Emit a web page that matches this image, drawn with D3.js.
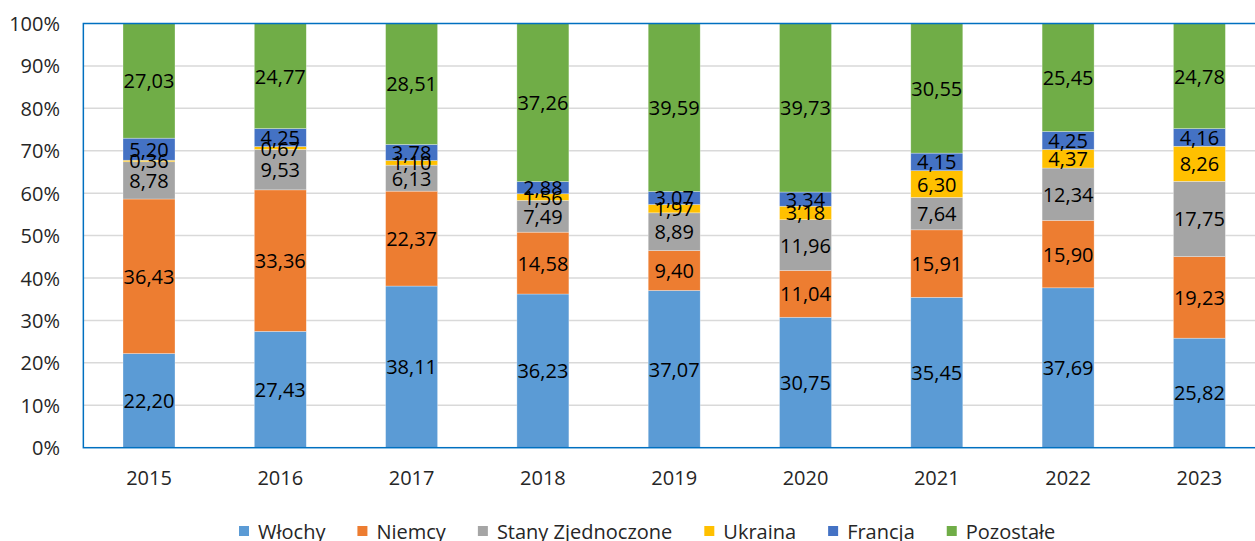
<!DOCTYPE html>
<html><head><meta charset="utf-8">
<script src="https://cdn.jsdelivr.net/npm/d3@7"></script>
<style>
html,body{margin:0;padding:0;background:#fff;overflow:hidden}
svg{display:block;font-family:"Open Sans",sans-serif}
</style></head>
<body>
<svg id="c" width="1255" height="541"></svg>
<script>
const years = ["2015","2016","2017","2018","2019","2020","2021","2022","2023"];
const seriesNames = ["Włochy","Niemcy","Stany Zjednoczone","Ukraina","Francja","Pozostałe"];
const seriesColors = ["#5B9BD5","#ED7D31","#A5A5A5","#FFC000","#4472C4","#70AD47"];
const wlochy    = [22.20,27.43,38.11,36.23,37.07,30.75,35.45,37.69,25.82];
const niemcy    = [36.43,33.36,22.37,14.58, 9.40,11.04,15.91,15.90,19.23];
const stany     = [ 8.78, 9.53, 6.13, 7.49, 8.89,11.96, 7.64,12.34,17.75];
const ukraina   = [ 0.36, 0.67, 1.10, 1.56, 1.97, 3.18, 6.30, 4.37, 8.26];
const francja   = [ 5.20, 4.25, 3.78, 2.88, 3.07, 3.34, 4.15, 4.25, 4.16];
const pozostale = [27.03,24.77,28.51,37.26,39.59,39.73,30.55,25.45,24.78];
const yTicks = [0,0.1,0.2,0.3,0.4,0.5,0.6,0.7,0.8,0.9,1];

(function(){
const allSeries = [wlochy,niemcy,stany,ukraina,francja,pozostale];
const keys = seriesNames;
const rows = years.map((yr,i)=>{
  const r = {year:yr};
  const tot = d3.sum(allSeries, s=>s[i]);
  keys.forEach((k,j)=>{ r[k] = allSeries[j][i]/tot; r["_"+k]=allSeries[j][i]; });
  return r;
});
const stacked = d3.stack().keys(keys)(rows);

const svg = d3.select("#c");
const pLeft = 83.35, pTop = 23.5, pBottom = 447.7, step = 131.3;
const pRight = pLeft + step*years.length;
const x = d3.scaleBand().domain(years).range([pLeft,pRight]).paddingInner(0.604).paddingOuter(0.302);
const y = d3.scaleLinear().domain([0,1]).range([pBottom,pTop]);
const color = d3.scaleOrdinal().domain(keys).range(seriesColors);

// gridlines
svg.append("g").selectAll("line").data(yTicks.filter(t=>t>0 && t<1)).join("line")
  .attr("x1",pLeft).attr("x2",pRight).attr("y1",d=>y(d)).attr("y2",d=>y(d))
  .attr("stroke","#D9D9D9").attr("stroke-width",1.5);

// bars
const g = svg.append("g");
g.selectAll("g").data(stacked).join("g").attr("fill",d=>color(d.key))
  .selectAll("rect").data(d=>d).join("rect")
  .attr("x",d=>x(d.data.year)).attr("width",x.bandwidth())
  .attr("y",d=>y(d[1])).attr("height",d=>y(d[0])-y(d[1]))
  .attr("stroke","#ffffff").attr("stroke-opacity",0.5).attr("stroke-width",0.6);

// frame
svg.append("rect").attr("x",pLeft).attr("y",pTop).attr("width",pRight-pLeft).attr("height",pBottom-pTop)
  .attr("fill","none").attr("stroke","#0070C0").attr("stroke-width",1.5);

// data labels
stacked.forEach(s=>{
  svg.append("g").selectAll("text").data(s).join("text")
    .attr("x",d=>x(d.data.year)+x.bandwidth()/2)
    .attr("y",d=>(y(d[0])+y(d[1]))/2)
    .attr("text-anchor","middle").attr("dominant-baseline","central")
    .attr("font-size",20).attr("fill","#000")
    .text(d=>d3.format(".2f")(d.data["_"+s.key]).replace(".",","));
});

// y axis
const yAxis = d3.axisLeft(y).tickValues(yTicks).tickFormat(d3.format(".0%")).tickSize(0).tickPadding(0);
const ya = svg.append("g").attr("transform","translate(60,0)").call(yAxis);
ya.select(".domain").remove();
ya.selectAll("text").attr("font-size",20).attr("fill","#262626").attr("font-family","Open Sans, sans-serif").attr("dy","0.35em");

// x axis
const xAxis = d3.axisBottom(x).tickSize(0).tickPadding(0);
const xa = svg.append("g").attr("transform","translate(0,478)").call(xAxis);
xa.select(".domain").remove();
xa.selectAll("text").attr("font-size",20).attr("fill","#262626").attr("font-family","Open Sans, sans-serif").attr("dy","0.35em");

// legend
const lg = svg.append("g");
let lx = 239;
keys.forEach((k,i)=>{
  lg.append("rect").attr("x",lx).attr("y",526).attr("width",10).attr("height",10).attr("fill",color(k));
  const t = lg.append("text").attr("x",lx+19).attr("y",531).attr("dominant-baseline","central")
    .attr("font-size",20).attr("fill","#262626").text(k);
  lx += 19 + t.node().getComputedTextLength() + 32;
});
})();
</script>
</body></html>
